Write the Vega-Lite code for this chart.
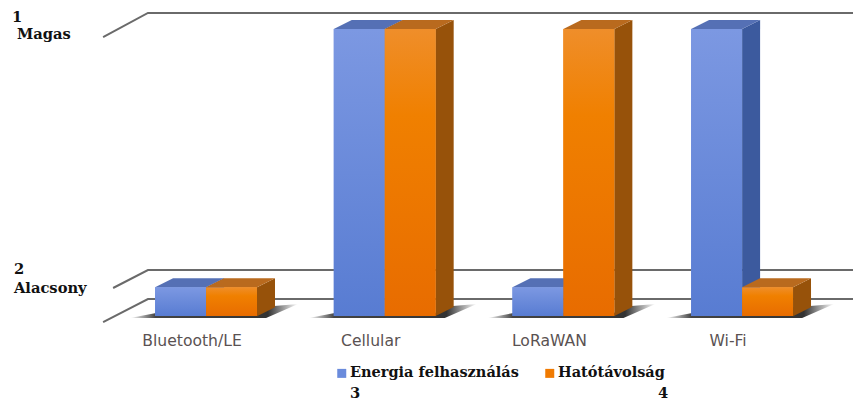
{"$schema":"https://vega.github.io/schema/vega-lite/v6.json","width":853,"height":316,"autosize":"none","padding":{"left":0,"top":0,"right":0,"bottom":84},"background":"white","config":{"view":{"stroke":null}},"datasets":{"bars":[{"technology":"Bluetooth/LE","series":"Energia felhasználás","level":1},{"technology":"Bluetooth/LE","series":"Hatótávolság","level":1},{"technology":"Cellular","series":"Energia felhasználás","level":10},{"technology":"Cellular","series":"Hatótávolság","level":10},{"technology":"LoRaWAN","series":"Energia felhasználás","level":1},{"technology":"LoRaWAN","series":"Hatótávolság","level":10},{"technology":"Wi-Fi","series":"Energia felhasználás","level":10},{"technology":"Wi-Fi","series":"Hatótávolság","level":1}],"walls":[{"line":"high","p":-0.576,"v":9.72},{"line":"high","p":-0.325,"v":10.56},{"line":"high","p":3.621,"v":10.56},{"line":"low","p":-0.52,"v":0.976},{"line":"low","p":-0.325,"v":1.6},{"line":"low","p":3.621,"v":1.6},{"line":"base","p":-0.576,"v":-0.21},{"line":"base","p":-0.325,"v":0.59},{"line":"base","p":3.621,"v":0.59}],"notes":[{"t":"1","p":-1.086,"v":10.38},{"t":"Magas","p":-1.058,"v":9.79},{"t":"2","p":-1.075,"v":1.6},{"t":"Alacsony","p":-1.075,"v":0.94},{"t":"3","p":0.806,"v":-2.72},{"t":"4","p":2.53,"v":-2.72}]},"encoding":{"y":{"field":"level","type":"quantitative","scale":{"domain":[0,11.01],"nice":false},"axis":null}},"layer":[{"data":{"name":"walls"},"mark":{"type":"line","color":"#6a6a6a","strokeWidth":2},"encoding":{"x":{"field":"p","type":"quantitative","scale":{"domain":[-1.153,3.621],"nice":false,"zero":false},"axis":null},"y":{"field":"v","type":"quantitative"},"detail":{"field":"line"}}},{"data":{"name":"notes"},"mark":{"type":"text","align":"left","baseline":"middle","font":"DejaVu Serif","fontWeight":"bold","fontSize":14.7,"color":"#111111"},"encoding":{"x":{"field":"p","type":"quantitative","scale":{"domain":[-1.153,3.621],"nice":false,"zero":false},"axis":null},"y":{"field":"v","type":"quantitative"},"text":{"field":"t"}}},{"data":{"name":"bars"},"encoding":{"x":{"field":"technology","type":"nominal","scale":{"type":"band","range":[116.7,831.4],"paddingInner":0.43,"paddingOuter":0.215},"axis":{"title":null,"labelAngle":0,"domain":false,"ticks":false,"labelPadding":17,"labelOffset":-14,"labelFont":"DejaVu Sans","labelFontSize":15.6,"labelColor":"#5a5252"}},"xOffset":{"field":"series","type":"nominal","sort":["Energia felhasználás","Hatótávolság"],"scale":{"type":"band","paddingInner":0,"paddingOuter":0}},"y":{"field":"level","type":"quantitative"}},"layer":[{"transform":[{"filter":"datum.series==='Hatótávolság'"}],"mark":{"type":"point","filled":true,"size":4,"opacity":1,"stroke":null,"shape":"M-25,2 L1,-3 L101,-3 L119,-10 L143,-12 L111,2 Z","fill":{"x1":0,"y1":0,"x2":1,"y2":0,"gradient":"linear","stops":[{"offset":0,"color":"#ffffff"},{"offset":0.15,"color":"#444444"},{"offset":0.82,"color":"#333333"},{"offset":1,"color":"#ffffff"}]}},"encoding":{"xOffset":{"value":0},"y":{"datum":0}}},{"mark":{"type":"bar","stroke":null},"encoding":{"color":{"field":"series","type":"nominal","scale":{"domain":["Energia felhasználás","Hatótávolság"],"range":["#6A8BDC","#F07A00"]},"legend":{"title":null,"orient":"none","legendX":334.5,"legendY":366,"direction":"horizontal","columns":2,"columnPadding":23,"symbolType":"square","symbolSize":81,"labelFont":"DejaVu Serif","labelFontWeight":"bold","labelFontSize":14.5,"labelColor":"#111111","labelOffset":1,"labelLimit":300}}}},{"mark":{"type":"point","filled":true,"opacity":1,"size":4,"stroke":null},"encoding":{"fill":{"condition":{"test":"datum.series==='Hatótávolság'","value":"#97520A"},"value":"#3C5A9E"},"shape":{"field":"level","type":"ordinal","scale":{"domain":[1,10],"range":["M25.5,0 L43.5,-9 L43.5,20 L25.5,29 Z","M25.5,0 L43.5,-9 L43.5,278 L25.5,287 Z"]},"legend":null}}},{"transform":[{"filter":"datum.series==='Energia felhasználás'"}],"mark":{"type":"point","filled":true,"opacity":1,"size":4,"stroke":null,"fill":"#5570B5","shape":"M-25.5,0 L-7.5,-9 L43.5,-9 L25.5,0 Z"}},{"transform":[{"filter":"datum.series==='Hatótávolság'"}],"mark":{"type":"point","filled":true,"opacity":1,"size":4,"stroke":null,"fill":"#B96A1E","shape":"M-25.5,0 L-7.5,-9 L43.5,-9 L25.5,0 Z"}},{"transform":[{"filter":"datum.series==='Energia felhasználás'"}],"mark":{"type":"bar","stroke":null,"fill":{"x1":0,"y1":0,"x2":0,"y2":1,"gradient":"linear","stops":[{"offset":0,"color":"#7C98E2"},{"offset":1,"color":"#587CD2"}]}}},{"transform":[{"filter":"datum.series==='Hatótávolság'"}],"mark":{"type":"bar","stroke":null,"fill":{"x1":0,"y1":0,"x2":0,"y2":1,"gradient":"linear","stops":[{"offset":0,"color":"#EF8E2A"},{"offset":0.3,"color":"#F08000"},{"offset":1,"color":"#E86C00"}]}}}]}],"resolve":{"scale":{"x":"independent"}}}
